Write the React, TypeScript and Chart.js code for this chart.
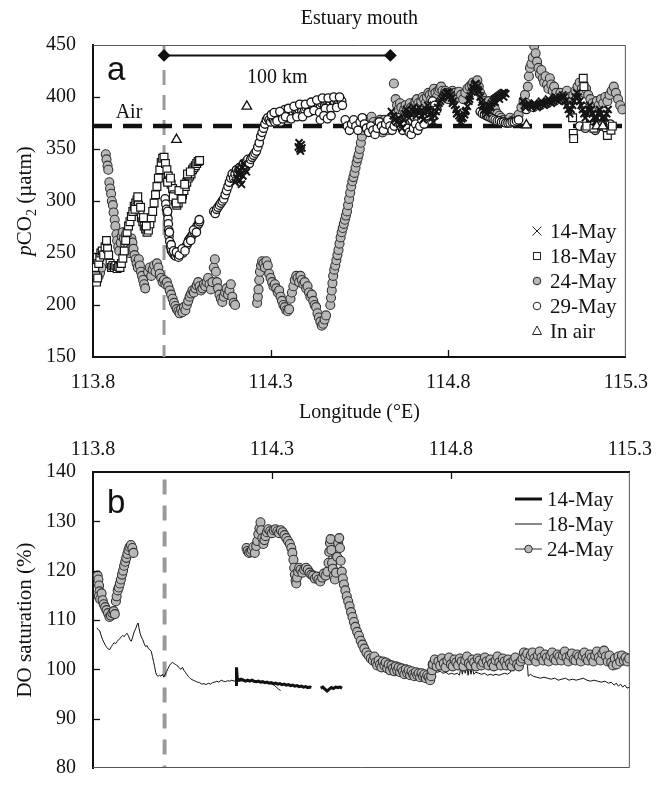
import React, { useEffect, useRef } from 'react';
import { Chart, registerables } from 'chart.js';
Chart.register(...registerables);

const SERIF = '"Liberation Serif", "Times New Roman", serif';
const SANS = '"Liberation Sans", Arial, sans-serif';

// ---------- axes ----------
const lonTicks = [113.8, 114.3, 114.8, 115.3];
const pco2Ticks = [150, 200, 250, 300, 350, 400, 450];
const doTicks = [80, 90, 100, 110, 120, 130, 140];
const airPco2 = 372;
const mouthLon = 114.0;
const scaleBarLon = [114.0, 114.637];
const scaleBarPco2 = 440;

// ---------- panel a: pCO2 (lon, µatm) ----------
const pco2May14 = [
  [114.200,318],[114.204,322],[114.208,326],[114.212,330],[114.214,320],[114.216,326],[114.218,316],[114.220,332],[114.222,324],[114.224,336],[114.228,330],[114.232,328],
  [114.378,352],[114.380,356],[114.382,350],[114.384,348],[114.386,354],[114.388,351],
  [114.640,386],[114.645,382],[114.650,378],[114.655,376],[114.660,380],[114.665,374],[114.670,370],[114.674,378],[114.678,384],[114.682,388],[114.686,384],[114.690,380],[114.694,384],[114.698,388],[114.702,390],[114.706,386],[114.710,382],[114.714,386],[114.718,390],[114.722,386],[114.726,382],[114.730,378],[114.734,384],[114.738,388],[114.742,392],[114.746,388],[114.750,384],[114.754,380],[114.758,376],[114.762,382],[114.766,386],[114.770,390],[114.774,394],[114.778,396],[114.782,398],[114.786,400],[114.790,402],
  [114.794,404],[114.798,405],[114.802,404],[114.806,402],[114.810,399],[114.814,396],[114.818,392],[114.822,388],[114.826,385],[114.830,382],[114.834,380],[114.838,379],[114.842,380],[114.846,383],[114.850,387],[114.854,391],[114.858,396],[114.862,401],[114.866,405],[114.870,409],[114.874,412],[114.878,413],[114.882,410],[114.886,405],[114.890,400],[114.894,395],[114.898,391],[114.902,388],[114.906,387],[114.910,388],[114.914,390],[114.918,392],[114.922,394],[114.926,396],[114.930,398],[114.934,399],[114.938,400],[114.942,401],[114.946,402],[114.950,403],[114.954,404],[114.958,404],[114.962,403],
  [114.800,400],[114.812,394],[114.824,384],[114.836,376],[114.848,386],[114.860,398],[114.872,407],[114.884,407],[114.896,392],[114.908,384],[114.920,390],[114.932,395],[114.944,398],[114.956,400],
  [115.010,396],[115.014,392],[115.018,390],[115.022,392],[115.026,394],[115.030,392],[115.034,390],[115.038,392],[115.042,394],[115.046,392],[115.050,390],[115.054,392],[115.058,394],[115.062,396],[115.066,394],[115.070,392],[115.074,394],[115.078,396],[115.082,398],[115.086,396],[115.090,394],[115.094,396],[115.098,398],[115.102,400],[115.106,398],[115.110,396],[115.114,398],[115.118,400],[115.122,402],[115.126,400],[115.130,396],[115.134,392],[115.138,388],[115.142,384],[115.146,388],[115.150,392],[115.154,396],[115.158,400],[115.162,404],[115.166,400],[115.170,396],[115.174,392],[115.178,388],[115.182,384],[115.186,380],[115.190,384],[115.194,388],[115.198,392],[115.202,388],[115.206,384],[115.210,380],[115.214,376],[115.218,380],[115.222,384],[115.226,388],[115.230,384],[115.234,380],[115.238,376],[115.242,380],[115.246,384],[115.250,388]
];

const pco2May18 = [
  [113.805,236],[113.808,228],[113.810,222],[113.813,226],[113.816,240],[113.819,246],[113.822,250],[113.826,252],[113.830,248],[113.834,256],[113.838,262],[113.841,254],[113.844,248],[113.848,240],[113.852,236],[113.856,238],[113.860,236],[113.864,238],[113.868,235],[113.872,237],[113.876,236],[113.880,240],[113.884,245],[113.888,252],[113.892,262],[113.896,270],[113.900,276],[113.904,280],[113.908,285],[113.912,290],[113.916,295],[113.920,298],[113.924,301],[113.928,296],[113.932,290],[113.936,284],[113.940,280],[113.944,276],[113.948,273],[113.952,270],[113.956,272],[113.960,278],[113.964,284],[113.968,290],[113.972,298],[113.976,306],[113.980,314],[113.984,322],[113.988,330],[113.992,337],[113.996,341],[114.000,342],[114.004,336],[114.008,330],[114.012,324],[114.016,320],[114.020,316],[114.024,312],[114.028,306],[114.032,300],[114.036,296],[114.040,298],[114.044,304],[114.048,308],[114.052,306],[114.056,310],[114.060,314],[114.064,318],[114.068,322],[114.072,324],[114.076,326],[114.080,330],[114.084,332],[114.088,334],[114.092,336],[114.096,338],[114.100,339],
  [113.918,292],[113.926,304],[113.934,294],[113.942,284],[113.950,276],[114.010,318],[114.018,322],[114.026,304],[114.034,298],[114.042,310],[114.050,302],[114.058,316],[114.066,326],[114.074,328],
  [115.150,380],[115.152,365],[115.153,360],[115.180,418],[115.182,410],[115.190,372],[115.200,380],[115.210,370],[115.248,363],[115.258,368],[115.262,372]
];

const pco2May24 = [
  [113.804,236],[113.808,230],[113.812,233],[113.816,228],[113.820,231],[113.824,236],
  [113.836,345],[113.838,340],[113.841,334],[113.843,330],[113.846,318],[113.848,312],[113.851,307],[113.853,300],[113.856,296],[113.858,289],[113.861,282],[113.863,276],[113.866,268],[113.868,262],[113.871,256],[113.874,252],
  [113.878,260],[113.881,266],[113.884,270],[113.887,264],[113.890,259],[113.893,268],[113.896,262],[113.899,256],[113.902,250],[113.905,254],[113.908,264],[113.911,260],[113.914,254],[113.917,248],[113.920,244],[113.923,240],[113.926,236],[113.929,244],[113.932,238],[113.935,232],[113.938,228],[113.941,224],[113.944,220],[113.947,216],
  [113.955,232],[113.960,236],[113.964,228],[113.968,234],[113.972,238],[113.976,232],[113.980,240],[113.984,236],[113.988,230],[113.992,226],[113.996,222],[114.000,224],[114.004,220],[114.008,222],[114.012,218],[114.016,214],[114.020,210],[114.024,206],[114.028,202],[114.032,199],[114.036,196],[114.040,194],[114.044,192],[114.048,196],[114.052,193],[114.056,198],[114.060,195],[114.064,200],[114.068,204],[114.072,208],[114.076,211],[114.080,214],[114.084,212],[114.088,216],[114.092,219],[114.096,222],[114.100,218],[114.104,214],[114.108,216],[114.112,220],[114.116,218],[114.120,222],[114.124,226],[114.128,220],[114.132,215],[114.136,222],[114.140,236],[114.143,244],[114.146,232],[114.149,222],[114.152,216],[114.156,210],[114.160,206],[114.164,203],[114.168,208],[114.172,212],[114.176,216],[114.180,210],[114.184,214],[114.188,220],[114.192,208],[114.196,202],[114.200,200],
  [114.262,202],[114.264,208],[114.266,215],[114.268,224],[114.270,232],[114.273,238],[114.276,242],[114.280,240],[114.284,236],[114.288,242],[114.292,238],[114.296,230],[114.300,226],[114.304,222],[114.308,218],[114.312,220],[114.316,216],[114.320,212],[114.324,214],[114.328,208],[114.332,204],[114.336,200],[114.340,198],[114.344,195],[114.348,194],[114.352,196],[114.356,206],[114.360,212],[114.364,218],[114.368,224],[114.372,228],[114.376,226],[114.380,222],[114.384,228],[114.388,224],[114.392,220],[114.396,222],[114.400,216],[114.404,218],[114.408,212],[114.412,208],[114.416,210],[114.420,204],[114.424,200],[114.428,198],[114.432,192],[114.436,188],[114.440,184],[114.444,180],[114.448,182],[114.452,186],[114.456,190],
  [114.468,200],[114.470,207],[114.472,214],[114.474,221],[114.476,228],[114.479,234],[114.482,238],[114.485,243],[114.488,248],[114.491,253],[114.494,259],[114.497,265],[114.500,270],[114.503,274],[114.506,278],[114.509,282],[114.512,286],[114.515,290],[114.518,296],[114.521,302],[114.524,308],[114.527,314],[114.530,319],[114.533,323],[114.536,327],[114.539,332],[114.542,337],[114.545,341],[114.548,345],[114.551,350],[114.554,356],[114.557,362],[114.560,368],[114.563,374],[114.566,378],
  [114.572,374],[114.575,368],[114.578,378],[114.584,381],[114.588,366],[114.590,376],[114.596,372],[114.600,368],[114.602,375],[114.608,378],[114.614,374],[114.615,366],[114.620,378],[114.626,372],[114.630,368],[114.632,376],[114.638,380],
  [114.647,413],[114.652,398],[114.656,392],[114.660,388],[114.664,394],[114.668,390],[114.672,384],[114.676,388],[114.680,392],[114.684,386],[114.688,390],[114.692,394],[114.696,390],[114.700,386],[114.704,392],[114.708,396],[114.712,398],[114.716,394],[114.720,390],[114.724,396],[114.728,400],[114.732,398],[114.736,394],[114.740,400],[114.744,404],[114.748,402],[114.752,398],[114.756,404],[114.760,408],[114.764,404],[114.768,400],[114.772,406],[114.776,408],[114.780,410],[114.784,406],[114.788,402],[114.792,406],[114.796,404],[114.800,398],[114.806,402],[114.812,406],[114.818,404],[114.824,400],[114.830,405],[114.836,402],[114.842,398],[114.848,404],[114.854,408],[114.860,410],[114.866,412],[114.870,414],[114.874,410],[114.878,414],[114.882,416],[114.886,410],[114.890,404],[114.896,400],[114.902,396],[114.908,392],[114.914,396],[114.920,390],[114.926,386],[114.932,388],[114.938,384],[114.944,382],[114.950,380],[114.956,378],[114.962,376],[114.968,378],[114.974,380],[114.980,377],[114.986,378],[114.992,380],[114.998,383],
  [115.006,390],[115.012,396],[115.016,402],[115.020,394],[115.024,410],[115.027,420],[115.030,428],[115.034,432],[115.038,438],[115.042,449],[115.046,442],[115.050,434],[115.054,428],[115.058,422],[115.062,426],[115.066,418],[115.070,414],[115.074,420],[115.078,412],[115.082,408],[115.086,418],[115.090,412],[115.094,406],[115.098,410],[115.104,404],[115.110,400],[115.116,404],[115.122,398],[115.128,402],[115.134,406],[115.140,400],[115.146,396],[115.152,402],[115.158,406],[115.164,410],[115.170,414],[115.176,408],[115.182,404],[115.188,408],[115.194,402],[115.200,398],[115.206,394],[115.212,390],[115.218,396],[115.224,392],[115.230,398],[115.236,394],[115.242,400],[115.248,396],[115.254,402],[115.260,406],[115.266,410],[115.272,404],[115.278,398],[115.284,392],[115.290,388]
];

const pco2May29 = [
  [114.003,302],[114.005,297],[114.007,292],[114.009,288],[114.011,283],[114.012,278],[114.013,272],[114.014,266],[114.016,261],[114.018,256],[114.021,252],[114.025,250],[114.029,248],[114.033,247],[114.037,249],[114.041,246],[114.045,250],[114.049,252],[114.053,250],[114.057,254],[114.061,256],[114.065,258],[114.069,262],[114.073,264],[114.077,266],[114.081,268],[114.085,270],[114.089,273],[114.093,276],[114.097,278],[114.100,280],
  [114.010,290],[114.015,270],[114.020,258],[114.027,252],[114.035,251],[114.043,248],[114.051,254],[114.059,252],[114.067,260],[114.075,262],[114.083,272],[114.091,270],[114.099,282],
  [114.140,290],[114.144,288],[114.148,292],[114.152,294],[114.156,296],[114.160,298],[114.164,300],[114.168,302],[114.172,306],[114.176,310],[114.180,314],[114.184,318],[114.188,322],[114.192,326],[114.196,322],[114.200,326],[114.204,330],[114.208,328],[114.212,332],[114.216,330],[114.220,334],[114.224,336],[114.228,334],[114.232,338],[114.236,340],[114.240,336],[114.244,340],[114.248,342],[114.252,344],[114.256,346],[114.260,348],[114.264,352],[114.268,356],[114.272,362],[114.276,366],[114.280,370],[114.284,374],[114.288,378],[114.292,380],[114.296,378],
  [114.300,376],[114.304,380],[114.308,378],[114.312,376],[114.316,380],[114.320,382],[114.324,378],[114.328,376],[114.332,382],[114.336,384],[114.340,388],[114.344,384],[114.348,380],[114.352,384],[114.356,386],[114.360,382],[114.364,384],[114.368,388],[114.372,386],[114.376,384],[114.380,388],[114.384,390],[114.388,386],[114.392,384],[114.396,388],[114.400,390],[114.404,392],[114.408,388],[114.412,386],[114.416,390],[114.420,392],[114.424,394],[114.428,390],[114.432,388],[114.436,392],[114.440,390],[114.444,394],[114.448,396],[114.452,392],[114.456,394],[114.460,396],[114.464,392],[114.468,394],[114.472,398],[114.476,396],[114.480,394],[114.484,398],[114.488,392],[114.492,396],[114.496,398],[114.500,396],
  [114.302,383],[114.310,385],[114.318,377],[114.326,386],[114.334,379],[114.342,381],[114.350,389],[114.358,379],[114.366,391],[114.374,381],[114.382,393],[114.390,381],[114.398,393],[114.406,385],[114.414,395],[114.422,387],[114.430,397],[114.438,385],[114.446,399],[114.454,389],[114.462,399],[114.470,389],[114.478,400],[114.486,390],[114.494,400],[114.502,392],
  [114.440,378],[114.450,382],[114.460,379],[114.470,382],
  [114.510,378],[114.516,372],[114.522,368],[114.528,374],[114.534,378],[114.540,372],[114.546,368],[114.552,376],[114.558,380],[114.564,374],[114.570,370],[114.576,366],[114.582,372],[114.588,368],[114.594,364],[114.600,370],[114.606,376],[114.612,372],[114.618,368],[114.624,374],[114.630,378],[114.636,372],[114.642,368],[114.648,372],[114.654,376],[114.660,380],[114.666,372],[114.672,368],[114.678,374],[114.684,370],[114.690,366],[114.696,364],[114.702,370],[114.708,374],[114.714,368],[114.720,372],[114.726,378],[114.732,374],[114.738,382],[114.744,388],[114.750,392],[114.756,396],[114.762,392],[114.768,388],
  [114.890,386],[114.896,384],[114.902,383],[114.908,382],[114.914,381],[114.920,380],[114.926,379],[114.932,378],[114.938,377],[114.944,377],[114.950,376],[114.956,376],[114.962,375],[114.968,375],[114.974,375],[114.980,376],[114.986,376],[114.992,377],[114.998,378],
  [115.020,388],[115.040,390],[115.060,392],[115.080,394],[115.100,396],[115.120,398],[115.140,392],[115.160,398],[115.180,390],
  [115.170,372],[115.186,370],[115.200,374],[115.214,368],[115.228,372],[115.244,370],[115.256,374]
];

const pco2InAir = [[114.035,359],[114.233,391],[115.020,373],[115.218,372],[115.235,372]];

// ---------- panel b: DO saturation (lon, %) ----------
const doMay14 = [
  [114.201,96.6],[114.201,100.4],[114.203,98.2],[114.208,97.8],[114.214,98.0],[114.220,97.8],[114.226,97.6],[114.232,97.8],[114.238,97.6],[114.244,97.8],[114.250,97.6],[114.256,97.5],[114.262,97.6],[114.268,97.4],[114.274,97.5],[114.280,97.3],[114.286,97.4],[114.292,97.2],[114.298,97.3],[114.304,97.1],[114.310,97.2],[114.316,97.0],[114.322,97.1],[114.328,96.9],[114.334,97.0],[114.340,96.8],[114.346,96.9],[114.352,96.7],[114.358,96.8],[114.364,96.6],[114.370,96.7],[114.376,96.5],[114.382,96.6],[114.388,96.4],[114.394,96.5],[114.400,96.3],[114.406,96.4],[114.410,96.3],
  [114.420,null],
  [114.436,96.2],[114.442,96.4],[114.448,96.0],[114.454,95.6],[114.460,96.0],[114.466,96.3],[114.472,96.1],[114.478,96.4],[114.484,96.3],[114.490,96.4],[114.496,96.2]
];

const doMay18 = [
  [113.811,108.4],[113.815,108.0],[113.819,107.8],[113.823,106.8],[113.827,106.0],[113.831,105.4],[113.835,104.8],[113.839,104.4],[113.843,104.1],[113.847,104.0],[113.851,104.6],[113.855,105.0],[113.859,105.4],[113.863,105.2],[113.867,105.6],[113.871,106.0],[113.875,106.2],[113.879,106.6],[113.883,106.9],[113.887,106.6],[113.891,107.0],[113.895,107.3],[113.899,106.8],[113.903,106.0],[113.907,105.7],[113.911,106.6],[113.915,107.6],[113.919,108.2],[113.923,109.0],[113.926,109.4],[113.929,108.2],[113.932,107.2],[113.935,106.6],[113.939,106.0],[113.943,105.2],[113.947,104.6],[113.951,104.8],[113.955,104.2],[113.959,104.0],[113.963,103.6],[113.966,102.6],[113.969,101.6],[113.972,100.6],[113.975,99.4],[113.978,98.8],[113.982,98.6],[113.986,98.8],[113.990,98.6],[113.994,99.0],[113.998,98.4],[114.002,99.0],[114.006,99.6],[114.010,100.2],[114.014,100.8],[114.018,101.2],[114.022,101.4],[114.026,101.2],[114.030,101.0],[114.034,100.8],[114.038,100.6],[114.042,100.2],[114.046,100.0],[114.050,100.4],[114.054,99.8],[114.058,99.4],[114.062,99.0],[114.066,98.6],[114.070,98.3],[114.074,98.0],[114.080,97.8],[114.086,97.6],[114.092,97.4],[114.098,97.3],[114.104,97.0],[114.110,97.1],[114.116,96.9],[114.122,97.2],[114.128,97.0],[114.134,97.3],[114.140,97.4],[114.146,97.6],[114.152,97.4],[114.158,97.8],[114.164,97.6],[114.170,97.5],[114.176,97.7],[114.182,97.6],[114.188,97.8],[114.194,97.6],[114.200,97.8],[114.210,97.6],[114.220,97.7],[114.230,97.5],[114.240,97.6],[114.250,97.4],[114.260,97.5],[114.270,97.3],[114.280,97.4],[114.290,97.2],[114.300,97.0],[114.306,96.8],[114.312,96.4],[114.318,96.0],[114.324,95.7],
  [114.500,null],
  [114.755,99.6],[114.762,99.4],[114.770,99.6],[114.778,99.2],[114.786,99.4],[114.794,99.0],[114.802,99.2],[114.810,99.0],[114.818,99.2],[114.824,98.8],[114.828,100.6],[114.832,99.0],[114.836,100.8],[114.840,99.2],[114.844,100.6],[114.848,98.8],[114.852,100.8],[114.856,99.0],[114.860,100.4],[114.864,99.0],[114.870,99.4],[114.878,99.2],[114.886,99.0],[114.894,99.2],[114.902,98.8],[114.910,99.0],[114.918,98.8],[114.926,99.0],[114.934,98.8],[114.942,99.0],[114.950,99.2],[114.958,99.0],[114.966,99.4],[114.972,100.8],[114.976,99.6],
  [114.995,null],
  [115.014,100.8],[115.016,98.6],[115.022,99.0],[115.030,98.6],[115.040,98.4],[115.050,98.2],[115.060,98.4],[115.070,98.2],[115.080,98.0],[115.090,98.2],[115.100,97.8],[115.110,98.0],[115.120,98.2],[115.130,97.8],[115.140,98.0],[115.150,97.8],[115.160,98.0],[115.170,98.2],[115.180,97.8],[115.190,97.6],[115.200,97.8],[115.210,97.6],[115.220,97.4],[115.230,97.6],[115.240,97.2],[115.248,97.4],[115.256,96.8],[115.262,97.2],[115.268,96.6],[115.274,97.0],[115.280,96.4],[115.286,96.8],[115.292,96.2],[115.300,96.4]
];

const doMay24 = [
  [113.813,119.0],[113.815,118.2],[113.817,117.0],[113.818,115.8],[113.816,114.8],[113.820,114.2],[113.824,115.4],[113.827,114.0],[113.830,113.2],[113.834,112.6],[113.838,112.0],[113.842,111.4],[113.846,110.6],[113.850,110.9],[113.854,111.4],[113.858,111.8],[113.861,111.2],[113.864,113.8],[113.866,114.8],[113.869,116.0],[113.872,116.6],[113.875,117.4],[113.878,118.2],[113.881,119.2],[113.884,120.0],[113.887,121.0],[113.890,121.8],[113.893,122.6],[113.896,123.4],[113.899,124.2],[113.902,124.8],[113.906,125.2],[113.910,124.6],[113.913,123.6],
  [114.000,null],
  [114.229,124.6],[114.232,124.0],[114.236,123.6],[114.240,123.8],[114.244,124.2],[114.248,124.8],[114.252,123.6],[114.256,125.0],[114.259,126.0],[114.262,127.4],[114.265,128.6],[114.268,129.8],[114.270,128.2],[114.273,126.6],[114.276,125.4],[114.279,126.2],[114.282,127.0],[114.286,127.8],[114.290,128.4],[114.295,128.0],[114.300,127.6],[114.305,128.2],[114.310,128.4],[114.315,128.0],[114.320,127.6],[114.325,128.2],[114.330,127.8],[114.335,127.2],[114.340,126.6],[114.345,126.0],[114.350,125.4],[114.354,124.6],[114.357,123.6],[114.360,122.2],[114.362,120.6],[114.364,119.2],[114.366,118.0],[114.368,117.4],[114.370,118.6],[114.373,119.8],[114.376,120.6],[114.380,120.2],[114.385,119.6],[114.390,120.2],[114.395,120.6],[114.400,120.2],[114.405,119.6],[114.410,119.2],[114.415,119.0],[114.420,118.4],[114.425,118.8],[114.430,118.2],[114.435,117.8],[114.440,118.6],[114.445,119.4],[114.450,119.0],[114.455,119.8],[114.458,121.6],[114.460,123.8],[114.462,125.6],[114.464,126.4],[114.466,124.2],[114.468,121.6],[114.470,120.4],[114.473,119.0],[114.476,118.2],[114.479,119.6],[114.482,122.8],[114.485,125.6],[114.488,126.6],[114.490,124.6],[114.492,122.0],[114.495,119.8],[114.498,118.4],[114.501,117.2],[114.505,116.0],[114.509,114.8],[114.513,113.8],[114.517,112.8],[114.521,111.6],[114.525,110.6],[114.529,109.6],[114.533,108.6],[114.538,107.6],[114.543,106.8],[114.548,105.8],[114.553,105.0],[114.558,104.2],[114.564,103.4],[114.570,102.8],[114.576,102.2],[114.582,101.8],[114.586,102.6],[114.590,101.4],[114.594,100.8],[114.598,101.8],[114.602,101.0],[114.606,100.4],[114.610,101.6],[114.614,100.8],[114.618,101.4],[114.622,100.2],[114.626,101.0],[114.630,99.8],[114.634,100.8],[114.638,100.2],[114.642,99.6],[114.646,100.6],[114.650,99.8],[114.654,100.4],[114.658,99.4],[114.662,100.2],[114.666,99.6],[114.670,99.0],[114.674,100.0],[114.678,99.2],[114.682,99.8],[114.686,98.8],[114.690,99.6],[114.694,99.0],[114.698,98.6],[114.702,99.4],[114.706,98.8],[114.710,99.2],[114.714,98.4],[114.718,99.2],[114.722,98.6],[114.726,99.0],[114.730,98.2],[114.734,98.8],[114.738,98.4],[114.742,97.8],[114.745,98.6],[114.747,99.8],[114.749,101.0],
  [114.750,101.0],[114.755,102.0],[114.760,100.6],[114.765,101.6],[114.770,100.8],[114.775,102.2],[114.780,101.2],[114.785,100.4],[114.790,101.8],[114.795,102.4],[114.800,101.0],[114.805,100.6],[114.810,102.0],[114.815,101.4],[114.820,100.8],[114.825,102.2],[114.830,101.6],[114.835,100.6],[114.840,101.8],[114.845,102.6],[114.850,101.2],[114.855,100.8],[114.860,102.0],[114.865,101.4],[114.870,100.6],[114.875,102.2],[114.880,101.8],[114.885,100.8],[114.890,101.4],[114.895,102.4],[114.900,101.6],[114.905,100.8],[114.910,102.0],[114.915,101.2],[114.920,100.6],[114.925,101.8],[114.930,102.6],[114.935,101.4],[114.940,100.8],[114.945,102.2],[114.950,101.6],[114.955,100.8],[114.960,102.0],[114.965,101.2],[114.970,100.6],[114.975,101.8],[114.980,102.4],[114.985,101.0],[114.990,100.6],[114.995,101.6],
  [115.000,102.2],[115.004,103.4],[115.008,102.6],[115.013,103.2],[115.018,101.8],[115.023,102.8],[115.028,103.4],[115.033,102.2],[115.038,101.6],[115.043,102.8],[115.048,103.6],[115.053,102.4],[115.058,101.8],[115.063,103.0],[115.068,102.4],[115.073,101.6],[115.078,102.8],[115.083,103.4],[115.088,102.2],[115.093,101.8],[115.098,103.0],[115.103,102.6],[115.108,101.8],[115.113,102.8],[115.118,103.6],[115.123,102.4],[115.128,101.6],[115.133,102.8],[115.138,103.2],[115.143,102.0],[115.148,101.8],[115.153,103.0],[115.158,102.6],[115.163,101.6],[115.168,102.8],[115.173,103.4],[115.178,102.2],[115.183,101.8],[115.188,103.0],[115.193,102.4],[115.198,101.6],[115.203,102.8],[115.208,103.6],[115.213,102.4],[115.218,101.8],[115.223,103.2],[115.228,103.8],[115.233,102.6],[115.238,101.6],[115.243,102.8],[115.248,101.4],[115.253,100.8],[115.258,102.2],[115.263,101.0],[115.268,102.6],[115.273,101.6],[115.278,102.8],[115.283,101.8],[115.288,102.4],[115.293,101.6],[115.298,102.2]
];

const toXY = (arr: (number | null)[][]) => arr.map(([x, y]) => ({ x: x as number, y: y as any }));

const setTicks = (vals: number[]) => (s: any) => { s.ticks = vals.map((v) => ({ value: v })); };

function line(ctx: CanvasRenderingContext2D, x1: number, y1: number, x2: number, y2: number) {
  ctx.beginPath(); ctx.moveTo(x1, y1); ctx.lineTo(x2, y2); ctx.stroke();
}

function drawRotatedPieces(ctx: CanvasRenderingContext2D, cx: number, cy: number, pieces: { t: string; font: string; dy?: number }[]) {
  ctx.save();
  ctx.translate(cx, cy);
  ctx.rotate(-Math.PI / 2);
  let total = 0;
  pieces.forEach((p) => { ctx.font = p.font; total += ctx.measureText(p.t).width; });
  let x = -total / 2;
  ctx.textAlign = 'left';
  ctx.textBaseline = 'alphabetic';
  pieces.forEach((p) => { ctx.font = p.font; ctx.fillText(p.t, x, p.dy || 0); x += ctx.measureText(p.t).width; });
  ctx.restore();
}

const panelAPlugin = {
  id: 'panelA',
  afterDraw(chart: any) {
    const { ctx, chartArea: ca, scales } = chart;
    const x = scales.x, y = scales.y;
    ctx.save();
    ctx.strokeStyle = '#555'; ctx.lineWidth = 1;
    ctx.beginPath(); ctx.moveTo(ca.left, ca.top + 0.5); ctx.lineTo(ca.right - 0.5, ca.top + 0.5); ctx.lineTo(ca.right - 0.5, ca.bottom); ctx.stroke();
    ctx.strokeStyle = '#111'; ctx.lineWidth = 1.3;
    pco2Ticks.slice(1, -1).forEach((v) => { const py = Math.round(y.getPixelForValue(v)) + 0.5; line(ctx, ca.left, py, ca.left + 7, py); });
    lonTicks.slice(1, -1).forEach((v) => { const px = Math.round(x.getPixelForValue(v)) + 0.5; line(ctx, px, ca.bottom, px, ca.bottom - 7); });

    ctx.fillStyle = '#111';
    ctx.font = `33px ${SANS}`; ctx.textAlign = 'left'; ctx.textBaseline = 'alphabetic';
    ctx.fillText('a', ca.left + 14, ca.top + 35);

    ctx.font = `20px ${SERIF}`; ctx.textAlign = 'center';
    const midBar = (x.getPixelForValue(scaleBarLon[0]) + x.getPixelForValue(scaleBarLon[1])) / 2;
    ctx.fillText('100 km', midBar, y.getPixelForValue(scaleBarPco2) + 28);
    ctx.fillText('Air', ca.left + 36, y.getPixelForValue(airPco2) - 8);
    ctx.fillText('Estuary mouth', (ca.left + ca.right) / 2, 24);
    ctx.textBaseline = 'middle';
    ctx.fillText('Longitude (°E)', (ca.left + ca.right) / 2, 413);

    drawRotatedPieces(ctx, 31, (ca.top + ca.bottom) / 2, [
      { t: 'p', font: `italic 21px ${SERIF}` },
      { t: 'CO', font: `21px ${SERIF}` },
      { t: '2', font: `14px ${SERIF}`, dy: 5 },
      { t: ' (µatm)', font: `21px ${SERIF}` },
    ]);

    // legend
    const lx = 537, tx = 550;
    const rows = [231, 256, 281, 306, 331];
    const labels = ['14-May', '18-May', '24-May', '29-May', 'In air'];
    ctx.font = `21px ${SERIF}`; ctx.textAlign = 'left'; ctx.textBaseline = 'alphabetic'; ctx.fillStyle = '#111';
    labels.forEach((l, i) => ctx.fillText(l, tx, rows[i] + 7));
    ctx.strokeStyle = '#222'; ctx.lineWidth = 1;
    line(ctx, lx - 4.5, rows[0] - 4.5, lx + 4.5, rows[0] + 4.5);
    line(ctx, lx - 4.5, rows[0] + 4.5, lx + 4.5, rows[0] - 4.5);
    ctx.strokeRect(lx - 3.5, rows[1] - 3.5, 7, 7);
    ctx.beginPath(); ctx.arc(lx, rows[2], 3.8, 0, Math.PI * 2); ctx.fillStyle = '#b8b8b8'; ctx.fill(); ctx.stroke();
    ctx.beginPath(); ctx.arc(lx, rows[3], 3.8, 0, Math.PI * 2); ctx.fillStyle = '#fff'; ctx.fill(); ctx.stroke();
    ctx.beginPath(); ctx.moveTo(lx, rows[4] - 5); ctx.lineTo(lx + 4.5, rows[4] + 3.5); ctx.lineTo(lx - 4.5, rows[4] + 3.5); ctx.closePath(); ctx.stroke();
    ctx.restore();
  },
};

const panelBPlugin = {
  id: 'panelB',
  afterDraw(chart: any) {
    const { ctx, chartArea: ca, scales } = chart;
    const x = scales.x, y = scales.y;
    ctx.save();
    ctx.strokeStyle = '#555'; ctx.lineWidth = 1;
    ctx.beginPath(); ctx.moveTo(ca.right - 0.5, ca.top); ctx.lineTo(ca.right - 0.5, ca.bottom - 0.5); ctx.lineTo(ca.left, ca.bottom - 0.5); ctx.stroke();
    ctx.strokeStyle = '#111'; ctx.lineWidth = 1.3;
    doTicks.slice(1, -1).forEach((v) => { const py = Math.round(y.getPixelForValue(v)) + 0.5; line(ctx, ca.left, py, ca.left + 7, py); });
    lonTicks.slice(1, -1).forEach((v) => { const px = Math.round(x.getPixelForValue(v)) + 0.5; line(ctx, px, ca.top, px, ca.top + 7); });

    ctx.fillStyle = '#111';
    ctx.font = `33px ${SANS}`; ctx.textAlign = 'left'; ctx.textBaseline = 'alphabetic';
    ctx.fillText('b', ca.left + 14, ca.top + 41);

    drawRotatedPieces(ctx, 31, (ca.top + ca.bottom) / 2, [
      { t: 'DO saturation (%)', font: `21px ${SERIF}` },
    ]);

    // legend
    const x1 = 515, x2 = 542, tx = 547;
    const rows = [ca.top + 27, ca.top + 52, ca.top + 77];
    const labels = ['14-May', '18-May', '24-May'];
    ctx.font = `21px ${SERIF}`; ctx.textAlign = 'left'; ctx.fillStyle = '#111';
    labels.forEach((l, i) => ctx.fillText(l, tx, rows[i] + 7));
    ctx.strokeStyle = '#111';
    ctx.lineWidth = 3; line(ctx, x1, rows[0], x2, rows[0]);
    ctx.lineWidth = 1; line(ctx, x1, rows[1], x2, rows[1]);
    ctx.strokeStyle = '#333'; line(ctx, x1, rows[2], x2, rows[2]);
    ctx.beginPath(); ctx.arc((x1 + x2) / 2, rows[2], 3.8, 0, Math.PI * 2); ctx.fillStyle = '#b8b8b8'; ctx.fill(); ctx.stroke();
    ctx.restore();
  },
};

const tickFont = { family: SERIF, size: 20, lineHeight: 1.2 };
const yTickFont = { family: SERIF, size: 20, lineHeight: 1.0 };

function makeConfigA(): any {
  return {
    type: 'scatter',
    data: {
      datasets: [
        { label: 'In air', data: toXY(pco2InAir), pointStyle: 'triangle', pointRadius: 5.5, backgroundColor: '#fff', borderColor: '#111', borderWidth: 1.3 },
        { label: '14-May', data: toXY(pco2May14), pointStyle: 'crossRot', pointRadius: 5, borderColor: '#151515', backgroundColor: '#151515', borderWidth: 2 },
        { label: '18-May', data: toXY(pco2May18), pointStyle: 'rect', pointRadius: 5.5, backgroundColor: '#fff', borderColor: '#151515', borderWidth: 1.2 },
        { label: '29-May', data: toXY(pco2May29), pointStyle: 'circle', pointRadius: 4.2, backgroundColor: '#fff', borderColor: '#151515', borderWidth: 1.3 },
        { label: '24-May', data: toXY(pco2May24), pointStyle: 'circle', pointRadius: 4.5, backgroundColor: '#b8b8b8', borderColor: '#333', borderWidth: 1.1 },
        { type: 'line', label: '100 km', data: scaleBarLon.map((v) => ({ x: v, y: scaleBarPco2 })), borderColor: '#111', borderWidth: 2, pointStyle: 'rectRot', pointRadius: 5, pointBackgroundColor: '#111', pointBorderColor: '#111' },
        { type: 'line', label: 'Air', data: [{ x: 113.8, y: airPco2 }, { x: 115.3, y: airPco2 }], borderColor: '#111', borderWidth: 4.5, borderDash: [19, 11], pointRadius: 0 },
        { type: 'line', label: 'mouth', data: [{ x: mouthLon, y: 450 }, { x: mouthLon, y: 150 }], borderColor: '#9a9a9a', borderWidth: 3, borderDash: [15, 10], pointRadius: 0 },
      ],
    },
    options: {
      responsive: false, animation: false, devicePixelRatio: 1, events: [],
      layout: { padding: { left: 0, right: 27, top: 45, bottom: 0 } },
      plugins: { legend: { display: false }, tooltip: { enabled: false }, title: { display: false } },
      scales: {
        x: {
          type: 'linear', position: 'bottom', min: 113.8, max: 115.3,
          afterBuildTicks: setTicks(lonTicks), afterFit: (s: any) => { s.height = 73; },
          grid: { display: false, drawTicks: false }, border: { display: true, color: '#111', width: 2 },
          ticks: { font: tickFont, color: '#111', padding: 14, maxRotation: 0, autoSkip: false, callback: (v: any) => Number(v).toFixed(1) },
        },
        y: {
          type: 'linear', min: 150, max: 450,
          afterBuildTicks: setTicks(pco2Ticks), afterFit: (s: any) => { s.width = 93; },
          grid: { display: false, drawTicks: false }, border: { display: true, color: '#111', width: 2 },
          ticks: { font: yTickFont, color: '#111', padding: 17, callback: (v: any) => String(v) },
        },
      },
    },
    plugins: [panelAPlugin],
  };
}

function makeConfigB(): any {
  return {
    type: 'line',
    data: {
      datasets: [
        { label: '24-May', data: toXY(doMay24), borderColor: '#333', borderWidth: 1, pointStyle: 'circle', pointRadius: 4.5, pointBackgroundColor: '#b8b8b8', pointBorderColor: '#333', pointBorderWidth: 1.1, spanGaps: false },
        { label: '14-May', data: toXY(doMay14), borderColor: '#111', borderWidth: 3, pointRadius: 0, spanGaps: false },
        { label: '18-May', data: toXY(doMay18), borderColor: '#111', borderWidth: 1, pointRadius: 0, spanGaps: false },
        { label: 'mouth', data: [{ x: mouthLon, y: 138.5 }, { x: mouthLon, y: 80 }], borderColor: '#9a9a9a', borderWidth: 4, borderDash: [15, 11], pointRadius: 0 },
      ],
    },
    options: {
      responsive: false, animation: false, devicePixelRatio: 1, events: [],
      layout: { padding: { left: 0, right: 27, top: 0, bottom: 10 } },
      plugins: { legend: { display: false }, tooltip: { enabled: false }, title: { display: false } },
      scales: {
        x: {
          type: 'linear', position: 'top', min: 113.8, max: 115.3,
          afterBuildTicks: setTicks(lonTicks), afterFit: (s: any) => { s.height = 42; },
          grid: { display: false, drawTicks: false }, border: { display: true, color: '#111', width: 2 },
          ticks: { font: tickFont, color: '#111', padding: 10, maxRotation: 0, autoSkip: false, callback: (v: any) => Number(v).toFixed(1) },
        },
        y: {
          type: 'linear', min: 80, max: 140,
          afterBuildTicks: setTicks(doTicks), afterFit: (s: any) => { s.width = 93; },
          grid: { display: false, drawTicks: false }, border: { display: true, color: '#111', width: 2 },
          ticks: { font: yTickFont, color: '#111', padding: 17, callback: (v: any) => String(v) },
        },
      },
    },
    plugins: [panelBPlugin],
  };
}

export default function App() {
  const refA = useRef<HTMLCanvasElement>(null);
  const refB = useRef<HTMLCanvasElement>(null);
  useEffect(() => {
    const a = new Chart(refA.current as HTMLCanvasElement, makeConfigA());
    const b = new Chart(refB.current as HTMLCanvasElement, makeConfigB());
    return () => { a.destroy(); b.destroy(); };
  }, []);
  return (
    <div style={{ position: 'absolute', left: 0, top: 0, width: 662, height: 795, background: '#fff' }}>
      <canvas ref={refA} width={662} height={430} style={{ position: 'absolute', left: 0, top: 0, width: 662, height: 430 }} />
      <canvas ref={refB} width={662} height={365} style={{ position: 'absolute', left: 0, top: 430, width: 662, height: 365 }} />
    </div>
  );
}
